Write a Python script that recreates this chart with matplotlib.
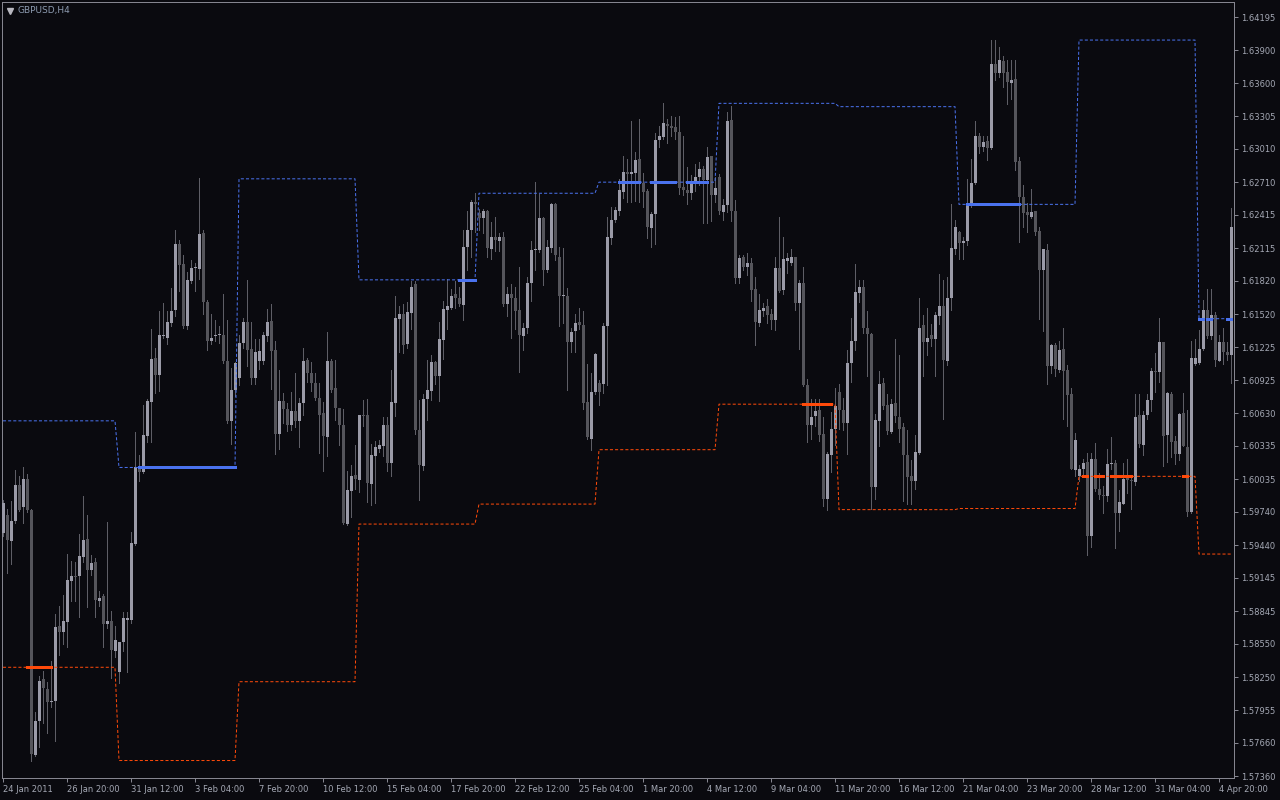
import numpy as np
import matplotlib
matplotlib.use("Agg")
import matplotlib.pyplot as plt
from matplotlib.lines import Line2D

# GBPUSD H4, 24 Jan 2011 .. 4 Apr 2011 (one value per bar)
opens = [
    1.5955, 1.5971, 1.5948, 1.5966, 1.5998, 1.5978, 1.6004, 1.5976, 1.5755, 1.5786,
    1.5823, 1.5814, 1.5803, 1.5804, 1.5871, 1.5866, 1.5875, 1.5912, 1.5916, 1.5916,
    1.5933, 1.5950, 1.5922, 1.5929, 1.5894, 1.5898, 1.5873, 1.5876, 1.5849, 1.5830,
    1.5857, 1.5877, 1.5877, 1.5945, 1.6013, 1.6010, 1.6042, 1.6073, 1.6113, 1.6097,
    1.6132, 1.6131, 1.6144, 1.6156, 1.6215, 1.6197, 1.6141, 1.6182, 1.6194, 1.6193,
    1.6225, 1.6163, 1.6128, 1.6132, 1.6133, 1.6133, 1.6110, 1.6056, 1.6084, 1.6095,
    1.6126, 1.6145, 1.6121, 1.6095, 1.6110, 1.6110, 1.6132, 1.6146, 1.6120, 1.6044,
    1.6074, 1.6067, 1.6052, 1.6065, 1.6056, 1.6072, 1.6111, 1.6099, 1.6090, 1.6077,
    1.6063, 1.6041, 1.6110, 1.6086, 1.6068, 1.6052, 1.5963, 1.5993, 1.6007, 1.6003,
    1.6061, 1.6061, 1.5999, 1.6024, 1.6031, 1.6033, 1.6052, 1.6018, 1.6072, 1.6148,
    1.6152, 1.6125, 1.6153, 1.6179, 1.6048, 1.6015, 1.6076, 1.6083, 1.6109, 1.6096,
    1.6129, 1.6156, 1.6158, 1.6170, 1.6167, 1.6160, 1.6213, 1.6228, 1.6253, 1.6243,
    1.6239, 1.6245, 1.6211, 1.6222, 1.6218, 1.6222, 1.6161, 1.6170, 1.6167, 1.6156,
    1.6132, 1.6140, 1.6180, 1.6210, 1.6210, 1.6239, 1.6192, 1.6212, 1.6251, 1.6204,
    1.6168, 1.6168, 1.6127, 1.6137, 1.6145, 1.6142, 1.6073, 1.6040, 1.6082, 1.6090,
    1.6089, 1.6141, 1.6221, 1.6237, 1.6245, 1.6262, 1.6280, 1.6278, 1.6279, 1.6292,
    1.6270, 1.6263, 1.6230, 1.6242, 1.6309, 1.6312, 1.6323, 1.6322, 1.6321, 1.6316,
    1.6267, 1.6264, 1.6261, 1.6269, 1.6276, 1.6283, 1.6273, 1.6295, 1.6259, 1.6276,
    1.6244, 1.6250, 1.6327, 1.6245, 1.6185, 1.6204, 1.6195, 1.6198, 1.6175, 1.6144,
    1.6155, 1.6159, 1.6152, 1.6147, 1.6194, 1.6174, 1.6200, 1.6198, 1.6204, 1.6162,
    1.6180, 1.6088, 1.6052, 1.6060, 1.6066, 1.6044, 1.5986, 1.6025, 1.6049, 1.6082,
    1.6066, 1.6054, 1.6108, 1.6128, 1.6171, 1.6177, 1.6140, 1.6134, 1.5996, 1.6056,
    1.6090, 1.6070, 1.6046, 1.6072, 1.6059, 1.6050, 1.6025, 1.6006, 1.6002, 1.6027,
    1.6142, 1.6127, 1.6133, 1.6130, 1.6150, 1.6159, 1.6110, 1.6167, 1.6211, 1.6226,
    1.6216, 1.6218, 1.6250, 1.6270, 1.6313, 1.6303, 1.6308, 1.6302, 1.6377, 1.6369,
    1.6380, 1.6370, 1.6360, 1.6364, 1.6290, 1.6258, 1.6244, 1.6240, 1.6245, 1.6227,
    1.6192, 1.6210, 1.6105, 1.6124, 1.6102, 1.6121, 1.6102, 1.6080, 1.6012, 1.6006,
    1.6013, 1.6019, 1.5952, 1.6022, 1.5995, 1.5989, 1.5988, 1.6017, 1.6018, 1.5973,
    1.5981, 1.6006, 1.6003, 1.6001, 1.6061, 1.6034, 1.6061, 1.6075, 1.6101, 1.6100,
    1.6127, 1.6043, 1.6080, 1.6038, 1.6026, 1.6063, 1.6032, 1.5974, 1.6107, 1.6108,
    1.6121, 1.6156, 1.6132, 1.6151, 1.6110, 1.6127, 1.6118, 1.6115,
]
highs = [
    1.5985, 1.5977, 1.5984, 1.6012, 1.6006, 1.6014, 1.6008, 1.5977, 1.5794, 1.5826,
    1.5831, 1.5821, 1.5840, 1.5882, 1.5889, 1.5899, 1.5936, 1.5930, 1.5929, 1.5954,
    1.5988, 1.5971, 1.5935, 1.5932, 1.5903, 1.5900, 1.5965, 1.5885, 1.5871, 1.5857,
    1.5884, 1.5884, 1.5956, 1.6046, 1.6025, 1.6070, 1.6076, 1.6139, 1.6122, 1.6155,
    1.6162, 1.6155, 1.6176, 1.6228, 1.6219, 1.6205, 1.6190, 1.6201, 1.6198, 1.6275,
    1.6228, 1.6165, 1.6152, 1.6147, 1.6141, 1.6170, 1.6147, 1.6104, 1.6109, 1.6133,
    1.6149, 1.6183, 1.6145, 1.6130, 1.6130, 1.6136, 1.6157, 1.6161, 1.6128, 1.6102,
    1.6081, 1.6072, 1.6082, 1.6099, 1.6077, 1.6122, 1.6113, 1.6109, 1.6099, 1.6090,
    1.6073, 1.6136, 1.6112, 1.6111, 1.6068, 1.6067, 1.6011, 1.6016, 1.6034, 1.6061,
    1.6075, 1.6076, 1.6035, 1.6038, 1.6039, 1.6059, 1.6059, 1.6102, 1.6168, 1.6159,
    1.6161, 1.6163, 1.6182, 1.6182, 1.6075, 1.6080, 1.6111, 1.6115, 1.6110, 1.6145,
    1.6164, 1.6184, 1.6175, 1.6182, 1.6177, 1.6228, 1.6245, 1.6255, 1.6261, 1.6247,
    1.6247, 1.6246, 1.6235, 1.6240, 1.6225, 1.6226, 1.6177, 1.6179, 1.6177, 1.6195,
    1.6144, 1.6186, 1.6218, 1.6271, 1.6260, 1.6240, 1.6219, 1.6252, 1.6252, 1.6213,
    1.6212, 1.6176, 1.6140, 1.6152, 1.6158, 1.6155, 1.6107, 1.6099, 1.6117, 1.6093,
    1.6144, 1.6240, 1.6249, 1.6249, 1.6274, 1.6295, 1.6292, 1.6326, 1.6298, 1.6328,
    1.6279, 1.6265, 1.6244, 1.6315, 1.6322, 1.6342, 1.6328, 1.6331, 1.6330, 1.6331,
    1.6313, 1.6285, 1.6277, 1.6287, 1.6289, 1.6286, 1.6303, 1.6295, 1.6276, 1.6278,
    1.6256, 1.6334, 1.6340, 1.6255, 1.6205, 1.6205, 1.6207, 1.6203, 1.6186, 1.6170,
    1.6162, 1.6166, 1.6157, 1.6204, 1.6240, 1.6222, 1.6207, 1.6211, 1.6204, 1.6183,
    1.6195, 1.6094, 1.6076, 1.6076, 1.6076, 1.6059, 1.6028, 1.6064, 1.6086, 1.6089,
    1.6077, 1.6120, 1.6149, 1.6197, 1.6183, 1.6183, 1.6155, 1.6135, 1.6062, 1.6101,
    1.6095, 1.6080, 1.6076, 1.6130, 1.6115, 1.6054, 1.6048, 1.6021, 1.6043, 1.6167,
    1.6151, 1.6158, 1.6143, 1.6154, 1.6188, 1.6183, 1.6186, 1.6251, 1.6237, 1.6227,
    1.6222, 1.6274, 1.6292, 1.6326, 1.6315, 1.6313, 1.6313, 1.6399, 1.6399, 1.6393,
    1.6385, 1.6381, 1.6381, 1.6381, 1.6294, 1.6268, 1.6252, 1.6265, 1.6245, 1.6231,
    1.6211, 1.6215, 1.6125, 1.6126, 1.6128, 1.6140, 1.6106, 1.6086, 1.6045, 1.6016,
    1.6022, 1.6027, 1.6027, 1.6036, 1.6009, 1.5997, 1.6031, 1.6041, 1.6021, 1.5994,
    1.6018, 1.6022, 1.6005, 1.6080, 1.6080, 1.6065, 1.6080, 1.6104, 1.6117, 1.6149,
    1.6127, 1.6082, 1.6082, 1.6042, 1.6063, 1.6081, 1.6066, 1.6128, 1.6130, 1.6138,
    1.6165, 1.6175, 1.6175, 1.6154, 1.6133, 1.6140, 1.6127, 1.6248,
]
lows = [
    1.5952, 1.5919, 1.5927, 1.5964, 1.5975, 1.5964, 1.5974, 1.5750, 1.5754, 1.5762,
    1.5784, 1.5775, 1.5798, 1.5768, 1.5845, 1.5855, 1.5852, 1.5894, 1.5894, 1.5879,
    1.5929, 1.5888, 1.5917, 1.5879, 1.5889, 1.5852, 1.5869, 1.5824, 1.5843, 1.5820,
    1.5849, 1.5830, 1.5874, 1.5944, 1.6002, 1.6009, 1.6037, 1.6037, 1.6081, 1.6083,
    1.6131, 1.6125, 1.6141, 1.6150, 1.6173, 1.6140, 1.6139, 1.6180, 1.6173, 1.6184,
    1.6152, 1.6120, 1.6125, 1.6128, 1.6126, 1.6108, 1.6054, 1.6035, 1.6078, 1.6088,
    1.6122, 1.6105, 1.6089, 1.6089, 1.6103, 1.6107, 1.6128, 1.6085, 1.6026, 1.6031,
    1.6054, 1.6047, 1.6048, 1.6050, 1.6032, 1.6061, 1.6091, 1.6083, 1.6075, 1.6027,
    1.6011, 1.6024, 1.6082, 1.6057, 1.6034, 1.5963, 1.5962, 1.5969, 1.5995, 1.5992,
    1.6051, 1.5983, 1.5980, 1.5982, 1.6028, 1.6024, 1.6011, 1.6006, 1.6060, 1.6118,
    1.6117, 1.6122, 1.6139, 1.6044, 1.5985, 1.6012, 1.6057, 1.6075, 1.6089, 1.6074,
    1.6112, 1.6139, 1.6157, 1.6158, 1.6159, 1.6147, 1.6192, 1.6204, 1.6226, 1.6228,
    1.6225, 1.6204, 1.6202, 1.6209, 1.6209, 1.6159, 1.6150, 1.6131, 1.6139, 1.6100,
    1.6120, 1.6135, 1.6164, 1.6192, 1.6208, 1.6178, 1.6190, 1.6208, 1.6201, 1.6141,
    1.6144, 1.6084, 1.6118, 1.6118, 1.6139, 1.6067, 1.6040, 1.6030, 1.6080, 1.6070,
    1.6081, 1.6088, 1.6215, 1.6235, 1.6241, 1.6257, 1.6253, 1.6253, 1.6254, 1.6253,
    1.6249, 1.6221, 1.6213, 1.6215, 1.6303, 1.6310, 1.6306, 1.6313, 1.6310, 1.6260,
    1.6259, 1.6251, 1.6256, 1.6263, 1.6268, 1.6234, 1.6234, 1.6236, 1.6253, 1.6242,
    1.6237, 1.6244, 1.6236, 1.6180, 1.6180, 1.6192, 1.6187, 1.6164, 1.6124, 1.6141,
    1.6150, 1.6144, 1.6139, 1.6138, 1.6172, 1.6170, 1.6189, 1.6196, 1.6156, 1.6121,
    1.6087, 1.6037, 1.6040, 1.6051, 1.6038, 1.5979, 1.5976, 1.6010, 1.6034, 1.6049,
    1.6048, 1.6026, 1.6091, 1.6120, 1.6163, 1.6135, 1.6096, 1.5977, 1.5986, 1.6033,
    1.6067, 1.6044, 1.6045, 1.6055, 1.6037, 1.5984, 1.5981, 1.5981, 1.5995, 1.6026,
    1.6096, 1.6115, 1.6123, 1.6096, 1.6143, 1.6058, 1.6106, 1.6156, 1.6206, 1.6202,
    1.6202, 1.6214, 1.6249, 1.6269, 1.6297, 1.6299, 1.6291, 1.6301, 1.6363, 1.6366,
    1.6357, 1.6341, 1.6346, 1.6282, 1.6217, 1.6231, 1.6226, 1.6239, 1.6223, 1.6148,
    1.6137, 1.6089, 1.6099, 1.6096, 1.6100, 1.6058, 1.6051, 1.6013, 1.6006, 1.6002,
    1.6006, 1.5935, 1.5942, 1.5993, 1.5986, 1.5973, 1.5984, 1.6013, 1.5941, 1.5957,
    1.5981, 1.5991, 1.5977, 1.5998, 1.6032, 1.6025, 1.6058, 1.6065, 1.6082, 1.6091,
    1.6015, 1.6019, 1.6023, 1.6017, 1.6021, 1.6033, 1.5970, 1.5973, 1.6106, 1.6107,
    1.6120, 1.6131, 1.6130, 1.6105, 1.6110, 1.6107, 1.6111, 1.6090,
]
closes = [
    1.5982, 1.5949, 1.5966, 1.5998, 1.5976, 1.6004, 1.5976, 1.5756, 1.5786, 1.5822,
    1.5815, 1.5803, 1.5804, 1.5870, 1.5866, 1.5876, 1.5913, 1.5916, 1.5915, 1.5934,
    1.5949, 1.5922, 1.5928, 1.5895, 1.5896, 1.5873, 1.5876, 1.5850, 1.5859, 1.5857,
    1.5878, 1.5878, 1.5946, 1.6014, 1.6010, 1.6043, 1.6074, 1.6112, 1.6097, 1.6133,
    1.6133, 1.6145, 1.6155, 1.6215, 1.6196, 1.6141, 1.6183, 1.6194, 1.6195, 1.6224,
    1.6163, 1.6128, 1.6131, 1.6133, 1.6134, 1.6110, 1.6056, 1.6084, 1.6108, 1.6126,
    1.6145, 1.6120, 1.6095, 1.6118, 1.6119, 1.6133, 1.6145, 1.6119, 1.6044, 1.6074,
    1.6067, 1.6052, 1.6065, 1.6056, 1.6072, 1.6110, 1.6099, 1.6090, 1.6077, 1.6061,
    1.6042, 1.6110, 1.6084, 1.6068, 1.6052, 1.5964, 1.5994, 1.6006, 1.6004, 1.6061,
    1.6060, 1.6000, 1.6025, 1.6032, 1.6034, 1.6052, 1.6018, 1.6073, 1.6149, 1.6152,
    1.6124, 1.6154, 1.6177, 1.6048, 1.6016, 1.6076, 1.6084, 1.6109, 1.6096, 1.6130,
    1.6157, 1.6159, 1.6168, 1.6167, 1.6161, 1.6213, 1.6228, 1.6253, 1.6251, 1.6239,
    1.6245, 1.6212, 1.6222, 1.6219, 1.6222, 1.6161, 1.6170, 1.6167, 1.6155, 1.6133,
    1.6140, 1.6180, 1.6210, 1.6211, 1.6239, 1.6192, 1.6213, 1.6251, 1.6205, 1.6168,
    1.6168, 1.6127, 1.6136, 1.6144, 1.6142, 1.6072, 1.6041, 1.6082, 1.6116, 1.6082,
    1.6141, 1.6222, 1.6237, 1.6246, 1.6264, 1.6280, 1.6278, 1.6280, 1.6291, 1.6270,
    1.6262, 1.6231, 1.6242, 1.6309, 1.6313, 1.6324, 1.6322, 1.6320, 1.6316, 1.6266,
    1.6264, 1.6261, 1.6269, 1.6276, 1.6283, 1.6273, 1.6294, 1.6259, 1.6266, 1.6245,
    1.6250, 1.6326, 1.6245, 1.6185, 1.6203, 1.6195, 1.6198, 1.6174, 1.6145, 1.6156,
    1.6158, 1.6151, 1.6147, 1.6194, 1.6173, 1.6202, 1.6203, 1.6204, 1.6162, 1.6180,
    1.6088, 1.6052, 1.6059, 1.6065, 1.6043, 1.5986, 1.6026, 1.6049, 1.6069, 1.6066,
    1.6054, 1.6108, 1.6128, 1.6172, 1.6177, 1.6140, 1.6134, 1.5996, 1.6057, 1.6089,
    1.6069, 1.6047, 1.6071, 1.6060, 1.6049, 1.6025, 1.6005, 1.6002, 1.6028, 1.6140,
    1.6127, 1.6131, 1.6130, 1.6151, 1.6159, 1.6111, 1.6167, 1.6212, 1.6231, 1.6216,
    1.6218, 1.6251, 1.6270, 1.6313, 1.6303, 1.6307, 1.6302, 1.6377, 1.6369, 1.6381,
    1.6369, 1.6361, 1.6363, 1.6289, 1.6258, 1.6243, 1.6241, 1.6244, 1.6226, 1.6192,
    1.6211, 1.6105, 1.6124, 1.6103, 1.6120, 1.6101, 1.6079, 1.6013, 1.6039, 1.6013,
    1.6018, 1.5952, 1.6022, 1.5995, 1.5989, 1.5988, 1.6017, 1.6018, 1.5973, 1.5983,
    1.6004, 1.6003, 1.6002, 1.6059, 1.6035, 1.6061, 1.6075, 1.6101, 1.6100, 1.6127,
    1.6042, 1.6081, 1.6037, 1.6026, 1.6062, 1.6033, 1.5974, 1.6113, 1.6113, 1.6121,
    1.6156, 1.6132, 1.6151, 1.6111, 1.6127, 1.6118, 1.6115, 1.6231,
]

# previous-week high / low levels, one per trading week on the chart
week_start = [0, 29, 59, 89, 119, 149, 179, 209, 239, 269, 299]
week_high = [1.6056, 1.6014, 1.6274, 1.6183, 1.6261, 1.6271, 1.6342, 1.6339, 1.6251, 1.6399, 1.6148]
week_low = [1.5834, 1.5750, 1.5821, 1.5963, 1.5981, 1.6030, 1.6071, 1.5976, 1.5977, 1.6006, 1.5936]

# bars where the level was touched (first bar, last bar, level)
high_hits = [(34, 58, 1.6014), (114, 118, 1.6183), (154, 159, 1.6271), (162, 168, 1.6271),
             (171, 176, 1.6271), (241, 254, 1.6251), (299, 300, 1.6148), (301, 302, 1.6148),
             (306, 307, 1.6148)]
low_hits = [(6, 12, 1.5834), (200, 207, 1.6071), (270, 271, 1.6006), (273, 275, 1.6006),
            (277, 282, 1.6006), (295, 296, 1.6006)]

date_labels = ["24 Jan 2011", "26 Jan 20:00", "31 Jan 12:00", "3 Feb 04:00", "7 Feb 20:00",
               "10 Feb 12:00", "15 Feb 04:00", "17 Feb 20:00", "22 Feb 12:00", "25 Feb 04:00",
               "1 Mar 20:00", "4 Mar 12:00", "9 Mar 04:00", "11 Mar 20:00", "16 Mar 12:00",
               "21 Mar 04:00", "23 Mar 20:00", "28 Mar 12:00", "31 Mar 04:00", "4 Apr 20:00"]
price_labels = ["1.64195", "1.63900", "1.63600", "1.63305", "1.63010", "1.62710", "1.62415",
                "1.62115", "1.61820", "1.61520", "1.61225", "1.60925", "1.60630", "1.60335",
                "1.60035", "1.59740", "1.59440", "1.59145", "1.58845", "1.58550", "1.58250",
                "1.57955", "1.57660", "1.57360"]

BG = "#0a0a0f"
FRAME = "#85858f"
TEXT = "#a4a8b4"
BULL = "#9b9ba8"
BEAR = "#55555b"
WICK = "#5e5e66"
BLUE = "#4a72ee"
RED = "#ff4a0a"

plt.rcParams["lines.scale_dashes"] = False
plt.rcParams["font.family"] = ["DejaVu Sans"]

o = np.array(opens)
h = np.array(highs)
l = np.array(lows)
c = np.array(closes)
x = np.arange(len(c))
px = 1 / 100 * 72  # one pixel in points

fig = plt.figure(figsize=(12.8, 8), dpi=100, facecolor=BG)
ax = fig.add_axes([2 / 1280, 22 / 800, 1232 / 1280, 776 / 800], facecolor=BG)

# candles
up = c >= o
ax.vlines(x, l, h, color=WICK, lw=px, antialiased=False, zorder=2)
body_lo = np.minimum(o, c)
body_h = np.maximum(np.abs(c - o), 0.00009)
ax.bar(x, body_h, bottom=body_lo, width=0.75,
       color=np.where(up, BULL, BEAR), linewidth=0, antialiased=False, zorder=3)

# previous week high / low lines
lengths = np.diff(week_start + [len(c)])
upper = np.repeat(week_high, lengths)
lower = np.repeat(week_low, lengths)
ax.plot(x, upper, color=BLUE, lw=px, dashes=(2.2, 1.5), zorder=4)
ax.plot(x, lower, color=RED, lw=px, dashes=(2.2, 1.5), zorder=4)

for a, b, lvl in high_hits:
    ax.plot([a, b], [lvl, lvl], color=BLUE, lw=3 * px, solid_capstyle="projecting",
            antialiased=False, zorder=5)
for a, b, lvl in low_hits:
    ax.plot([a, b], [lvl, lvl], color=RED, lw=3 * px, solid_capstyle="projecting",
            antialiased=False, zorder=5)

ax.set_xlim(-0.25, 307.75)
ymax = 1.64195 + 15.3 * 0.00009008
ax.set_ylim(ymax - 776 * 0.00009008, ymax)

# axes styling
for s in ax.spines.values():
    s.set_color(FRAME)
    s.set_linewidth(px)
ax.yaxis.tick_right()
ax.set_yticks([float(v) for v in price_labels])
ax.set_yticklabels(price_labels)
ax.set_xticks(np.arange(0, 16 * len(date_labels), 16))
ax.set_xticklabels(date_labels, ha="left")
ax.tick_params(axis="both", colors=FRAME, labelcolor=TEXT, labelsize=6,
               length=4 * px, width=px, direction="out")
ax.tick_params(axis="y", pad=2.5)
ax.tick_params(axis="x", pad=2)

# symbol caption
fig.add_artist(Line2D([9.5 / 1280], [1 - 11 / 800], marker="v", markersize=4,
                      color="#b8b8c0", transform=fig.transFigure))
fig.text(18 / 1280, 1 - 10.5 / 800, "GBPUSD,H4", color="#8d9bb0", fontsize=6.5,
         ha="left", va="center")

fig.savefig("out.png", dpi=100, facecolor=BG)
